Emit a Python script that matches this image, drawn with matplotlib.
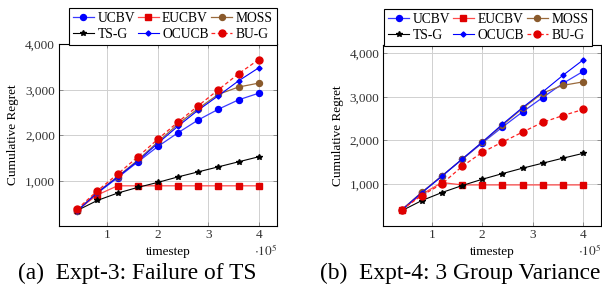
import numpy as np
import matplotlib
matplotlib.use("Agg")
import matplotlib.pyplot as plt
from matplotlib.ticker import FuncFormatter

plt.rcParams['font.family'] = ['Liberation Serif', 'DejaVu Serif']
plt.rcParams['mathtext.fontset'] = 'stix'

# timesteps shared by both experiments
timesteps = [40000, 80000, 120000, 160000, 200000, 240000, 280000, 320000, 360000, 400000]

# Expt-3: Failure of TS
ucbv_a = [350, 740, 1075, 1420, 1760, 2060, 2340, 2575, 2780, 2925]
eucbv_a = [370, 700, 900, 900, 900, 900, 900, 900, 900, 900]
moss_a = [355, 760, 1100, 1460, 1860, 2250, 2590, 2900, 3060, 3145]
tsg_a = [360, 580, 740, 865, 975, 1095, 1205, 1315, 1425, 1535]
ocucb_a = [350, 750, 1090, 1440, 1830, 2205, 2555, 2870, 3195, 3480]
bug_a = [390, 790, 1155, 1530, 1920, 2295, 2650, 3000, 3350, 3660]

# Expt-4: 3 Group Variance
ucbv_b = [400, 800, 1180, 1560, 1940, 2305, 2655, 2985, 3310, 3585]
eucbv_b = [400, 760, 1030, 975, 975, 975, 975, 975, 975, 975]
moss_b = [400, 805, 1185, 1565, 1955, 2350, 2735, 3090, 3265, 3345]
tsg_b = [380, 615, 800, 960, 1105, 1235, 1360, 1475, 1590, 1700]
ocucb_b = [395, 795, 1175, 1570, 1960, 2370, 2755, 3115, 3495, 3848]
bug_b = [405, 730, 1000, 1400, 1725, 1960, 2190, 2415, 2570, 2710]

captions = ["(a)  Expt-3: Failure of TS", "(b)  Expt-4: 3 Group Variance"]


def draw(ax, data, ylim, leg_x):
    x = np.array(timesteps) / 1e5
    ucbv, eucbv, moss, tsg, ocucb, bug = data
    h1, = ax.plot(x, ucbv, color='#3a3aff', lw=0.9, marker='o', ms=4.3, mfc='blue', mec='blue', label='UCBV')
    h2, = ax.plot(x, eucbv, color='#ff4a4a', lw=0.9, marker='s', ms=4.3, mfc='#e00000', mec='#e00000', label='EUCBV')
    h3, = ax.plot(x, moss, color='#9a6a3c', lw=0.9, marker='o', ms=4.3, mfc='#8a5a2c', mec='#8a5a2c', label='MOSS')
    h4, = ax.plot(x, tsg, color='black', lw=0.8, marker='*', ms=3.8, label='TS-G')
    h5, = ax.plot(x, ocucb, color='blue', lw=0.8, marker='D', ms=2.6, label='OCUCB')
    h6, = ax.plot(x, bug, color='#ff2020', lw=0.9, ls=(0, (3, 2)), marker='o', ms=5, mfc='#e00000', mec='#e00000', label='BU-G')

    ax.set_xlim(0.04, 4.36)
    ax.set_ylim(*ylim)
    ax.set_xticks([1, 2, 3, 4])
    ax.set_yticks([1000, 2000, 3000, 4000])
    ax.yaxis.set_major_formatter(FuncFormatter(lambda v, p: f"{int(v):,}"))
    ax.grid(True, color='#d0d0d0', lw=0.7)
    ax.set_axisbelow(True)
    ax.tick_params(direction='in', length=3, width=0.6, color='#808080',
                   labelsize=9.5, labelcolor='#333333', top=True, right=True, pad=3)
    ax.tick_params(axis='x', pad=2)
    for s in ax.spines.values():
        s.set_linewidth(0.8)
    ax.set_xlabel('timestep', fontsize=9.5, labelpad=4)
    ax.set_ylabel('Cumulative Regret', fontsize=9.5, labelpad=4)
    ax.text(1.0, -0.095, r'$\cdot 10^{5}$', transform=ax.transAxes, ha='right', va='top', fontsize=9.5, color='#333333')

    # row-wise legend order (matplotlib fills columns first)
    handles = [h1, h4, h2, h5, h3, h6]
    leg = ax.legend(handles=handles, loc='lower right', bbox_to_anchor=(leg_x, 0.995), ncol=3, fontsize=9.8,
                    frameon=True, fancybox=False, edgecolor='black', framealpha=1,
                    handlelength=1.55, handletextpad=0.25, columnspacing=0.2,
                    labelspacing=0.22, borderpad=0.3, borderaxespad=0, numpoints=1)
    leg.get_frame().set_linewidth(0.8)


fig = plt.figure(figsize=(6.02, 2.84), dpi=100)
ax1 = fig.add_axes([0.098, 0.204, 0.362, 0.641])
ax2 = fig.add_axes([0.637, 0.205, 0.3616, 0.636])

draw(ax1, [ucbv_a, eucbv_a, moss_a, tsg_a, ocucb_a, bug_a], (20, 4000), 1.0)
draw(ax2, [ucbv_b, eucbv_b, moss_b, tsg_b, ocucb_b, bug_b], (35, 4190), 0.959)

fig.text(18 / 602, 0.036, captions[0], fontsize=16.8, ha='left', va='center')
fig.text(320 / 602, 0.036, captions[1], fontsize=16.8, ha='left', va='center')

fig.savefig('out.png', dpi=100)
